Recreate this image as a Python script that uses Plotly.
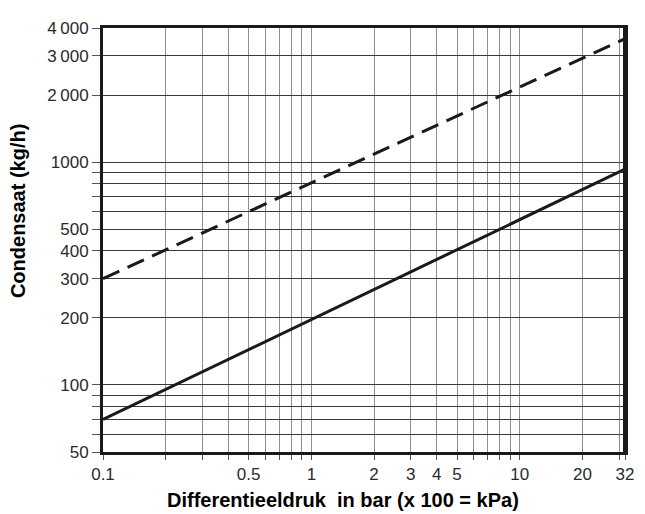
import plotly.graph_objects as go
import math

# Data
x_solid = [0.1, 32]
y_solid = [70, 930]
x_dashed = [0.1, 32]
y_dashed = [300, 3580]

x_grid = [0.1, 0.2, 0.3, 0.4, 0.5, 0.6, 0.7, 0.8, 0.9, 1, 2, 3, 4, 5, 6, 7, 8, 9, 10, 20, 30, 32]
x_labels = {0.1: "0.1", 0.5: "0.5", 1: "1", 2: "2", 3: "3", 4: "4", 5: "5", 10: "10", 20: "20", 32: "32"}
y_grid = [50, 60, 70, 80, 90, 100, 200, 300, 400, 500, 600, 700, 800, 900, 1000, 2000, 3000, 4000]
y_labels = {50: "50", 100: "100", 200: "200", 300: "300", 400: "400", 500: "500",
            1000: "1000", 2000: "2\u2009000", 3000: "3\u2009000", 4000: "4\u2009000"}

x_title = "Differentieeldruk  in bar (x 100 = kPa)"
y_title = "Condensaat (kg/h)"

fig = go.Figure()
fig.add_trace(go.Scatter(x=x_dashed, y=y_dashed, mode="lines",
                         line=dict(color="#1a1a1a", width=3, dash="18px,9px"),
                         showlegend=False))
fig.add_trace(go.Scatter(x=x_solid, y=y_solid, mode="lines",
                         line=dict(color="#1a1a1a", width=3),
                         showlegend=False))

tick_font = dict(family="Liberation Sans, Arial", size=17, color="#2a2a2a")
title_font = dict(family="Liberation Sans, Arial", size=20, color="black")

fig.update_layout(
    width=637, height=506,
    margin=dict(l=95, r=15, t=11, b=62),
    paper_bgcolor="white", plot_bgcolor="white",
    xaxis=dict(
        type="log", range=[math.log10(0.1), math.log10(32)],
        tickvals=x_grid, ticktext=[x_labels.get(v, "") for v in x_grid],
        showgrid=True, gridcolor="#8f8f8f", gridwidth=1.4,
        showline=True, linecolor="#1a1a1a", linewidth=3, mirror=True,
        ticks="outside", ticklen=5, tickcolor="#555", tickwidth=1,
        zeroline=False, tickangle=0, tickfont=tick_font,
    ),
    yaxis=dict(
        type="log", range=[math.log10(50), math.log10(4000)],
        tickvals=y_grid, ticktext=[y_labels.get(v, "") for v in y_grid],
        showgrid=True, gridcolor="#3a3a3a", gridwidth=1.1,
        showline=True, linecolor="#1a1a1a", linewidth=3, mirror=True,
        ticks="outside", ticklen=8, tickcolor="#555", tickwidth=1,
        zeroline=False, tickfont=tick_font,
    ),
    annotations=[
        dict(text="<b>" + x_title.replace("  ", " \u00a0") + "</b>",
             xref="paper", yref="paper", x=0.459, y=-0.113,
             xanchor="center", yanchor="middle", showarrow=False, font=title_font),
        dict(text="<b>" + y_title + "</b>", textangle=-90,
             xref="paper", yref="paper", x=-0.163, y=0.568,
             xanchor="center", yanchor="middle", showarrow=False, font=title_font),
    ],
    shapes=[
        dict(type="line", xref="paper", yref="paper", x0=1, x1=1, y0=0, y1=1,
             line=dict(color="#1a1a1a", width=4)),
    ],
)

fig.write_html("out.html")
